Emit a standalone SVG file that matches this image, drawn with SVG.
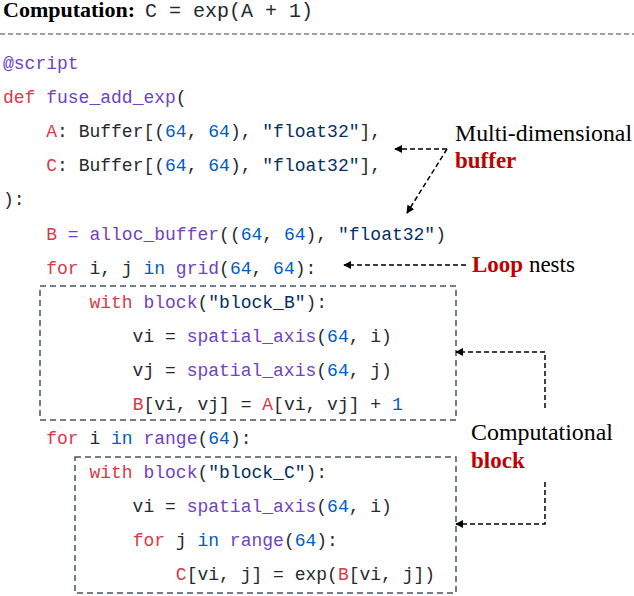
<svg xmlns="http://www.w3.org/2000/svg" width="634" height="596" viewBox="0 0 634 596">
<style>
.c{font-family:"Liberation Mono","DejaVu Sans Mono",monospace;font-size:18px;fill:#24292e;white-space:pre}
.k{fill:#d73a49}.f{fill:#6f42c1}.n{fill:#005cc5}.s{fill:#032f62}
.t{font-family:"Liberation Serif","Times New Roman",serif;font-size:23px;fill:#000}
.r{fill:#c00000;font-weight:bold}
.box{fill:none;stroke:#44546a;stroke-width:1.5;stroke-dasharray:6,4}
.ar{fill:none;stroke:#000;stroke-width:1.5;stroke-dasharray:5,3;marker-end:url(#ah)}
</style>
<defs><marker id="ah" viewBox="0 0 10 10" refX="9" refY="5" markerWidth="8" markerHeight="8" orient="auto" markerUnits="userSpaceOnUse"><path d="M0,0L10,5L0,10z" fill="#000"/></marker></defs>
<g id="header">
<text x="3" y="17" class="t" style="font-weight:bold;font-size:22px">Computation:</text>
<text x="145" y="17" class="c" style="font-size:20px">C = exp(A + 1)</text>
<line x1="0" y1="34" x2="634" y2="34" stroke="#444" stroke-width="1.2" stroke-dasharray="5,3"/>
</g>
<g id="code">
<text x="3" y="69" class="c"><tspan class="f">@script</tspan></text>
<text x="3" y="103" class="c"><tspan class="k">def</tspan> <tspan class="f">fuse_add_exp</tspan>(</text>
<text x="3" y="137" class="c">    <tspan class="k">A</tspan>: Buffer[(<tspan class="n">64</tspan>, <tspan class="n">64</tspan>), <tspan class="s">"float32"</tspan>],</text>
<text x="3" y="171" class="c">    <tspan class="k">C</tspan>: Buffer[(<tspan class="n">64</tspan>, <tspan class="n">64</tspan>), <tspan class="s">"float32"</tspan>],</text>
<text x="3" y="205" class="c">):</text>
<text x="3" y="240" class="c">    <tspan class="k">B</tspan> <tspan class="f">= alloc_buffer</tspan>((<tspan class="n">64</tspan>, <tspan class="n">64</tspan>), <tspan class="s">"float32"</tspan>)</text>
<text x="3" y="274" class="c">    <tspan class="k">for</tspan> i, j <tspan class="n">in</tspan> <tspan class="f">grid</tspan>(<tspan class="n">64</tspan>, <tspan class="n">64</tspan>):</text>
<text x="3" y="308" class="c">        <tspan class="k">with</tspan> <tspan class="f">block</tspan>(<tspan class="s">"block_B"</tspan>):</text>
<text x="3" y="342" class="c">            vi = <tspan class="f">spatial_axis</tspan>(<tspan class="n">64</tspan>, i)</text>
<text x="3" y="376" class="c">            vj = <tspan class="f">spatial_axis</tspan>(<tspan class="n">64</tspan>, j)</text>
<text x="3" y="410" class="c">            <tspan class="k">B</tspan>[vi, vj] = <tspan class="k">A</tspan>[vi, vj] + <tspan class="n">1</tspan></text>
<text x="3" y="444" class="c">    <tspan class="k">for</tspan> i <tspan class="n">in</tspan> <tspan class="f">range</tspan>(<tspan class="n">64</tspan>):</text>
<text x="3" y="478" class="c">        <tspan class="k">with</tspan> <tspan class="f">block</tspan>(<tspan class="s">"block_C"</tspan>):</text>
<text x="3" y="512" class="c">            vi = <tspan class="f">spatial_axis</tspan>(<tspan class="n">64</tspan>, i)</text>
<text x="3" y="546" class="c">            <tspan class="k">for</tspan> j <tspan class="n">in</tspan> <tspan class="f">range</tspan>(<tspan class="n">64</tspan>):</text>
<text x="3" y="580" class="c">                <tspan class="k">C</tspan>[vi, j] = exp(<tspan class="k">B</tspan>[vi, j])</text>
</g>
<g id="blockB"><rect class="box" x="40" y="286" width="416" height="134"/></g>
<g id="blockC"><rect class="box" x="75" y="457" width="381" height="136"/></g>
<g id="label-buffer">
<text x="455" y="141" class="t" textLength="177" lengthAdjust="spacingAndGlyphs">Multi-dimensional</text>
<text x="455" y="168" class="t r">buffer</text>
</g>
<g id="label-loop"><text x="472" y="272" class="t"><tspan class="r">Loop</tspan> nests</text></g>
<g id="label-block">
<text x="471" y="440" class="t" textLength="142" lengthAdjust="spacingAndGlyphs">Computational</text>
<text x="471" y="468" class="t r">block</text>
</g>
<g id="connectors">
<path class="ar" d="M447,149 L395,149"/>
<path class="ar" d="M447,149 L407,213"/>
<path class="ar" d="M466,265 L344,265"/>
<path class="ar" d="M545,408 L545,352 L456,352"/>
<path class="ar" d="M545,482 L545,524 L456,524"/>
</g>
</svg>
